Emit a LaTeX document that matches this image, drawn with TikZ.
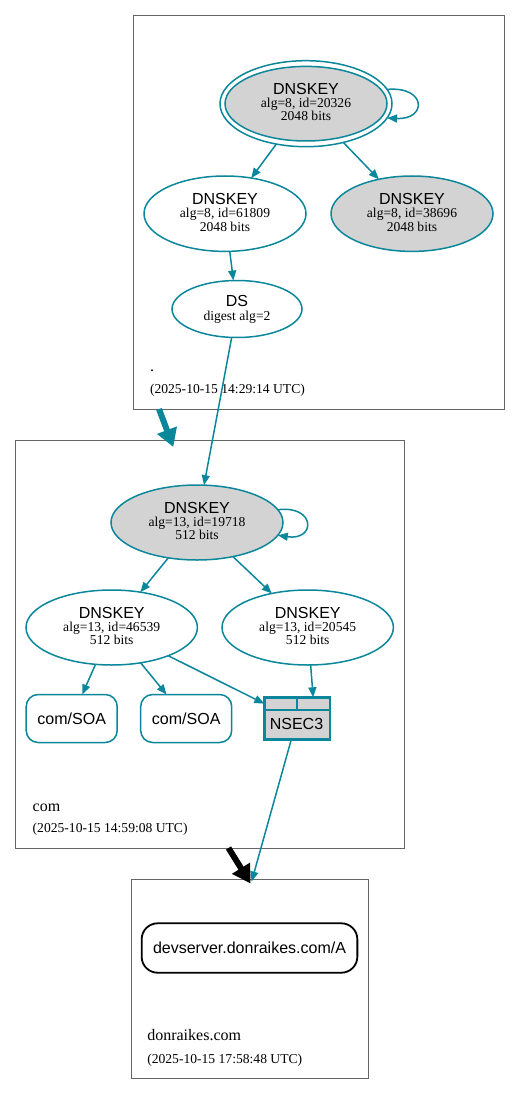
\documentclass[tikz,border=0pt]{standalone}
\usepackage{fontspec}
\setmainfont{Liberation Serif}
\setsansfont{Liberation Sans}
\usetikzlibrary{shapes.geometric,arrows.meta}
\definecolor{sec}{HTML}{0A879A}
\definecolor{kgray}{HTML}{D3D3D3}
\definecolor{cl}{HTML}{666666}
\newcommand\keytxt[3]{%
  \node[tA] (#1-a) at ([yshift=9.5pt]#1.center) {DNSKEY};
  \node[tB] (#1-b) at ([yshift=-4pt]#1.center) {#2};
  \node[tB] (#1-c) at ([yshift=-17.3pt]#1.center) {#3};}
\begin{document}
\begin{tikzpicture}[x=1pt,y=-1pt,
  every node/.style={inner sep=0pt, outer sep=0pt},
  key/.style={ellipse, draw=sec, line width=1.5pt, fill=white},
  ksk/.style={key, fill=kgray},
  tA/.style={font=\sffamily\fontsize{16}{19}\selectfont, anchor=base},
  tB/.style={font=\fontsize{13.6}{15}\selectfont, anchor=base},
  zl/.style={font=\fontsize{16}{19}\selectfont, anchor=base west},
  zt/.style={font=\fontsize{13.6}{15}\selectfont, anchor=base west},
  edge/.style={draw=sec, line width=1.5pt, -{Triangle[length=10pt,width=8pt]}},
  bigedge/.style={line width=6pt, -{Triangle[length=18pt,width=20pt]}},
  zone/.style={rectangle, draw=cl, line width=0.9pt},
  soa/.style={rectangle, rounded corners=12pt, draw=sec, line width=1.5pt, fill=white,
    minimum width=91pt, minimum height=48pt, font=\sffamily\fontsize{16}{19}\selectfont},
  cell/.style={rectangle, draw=sec, line width=1.8pt}
]
\useasboundingbox (0,0) rectangle (520,1094);
% zones
\node[zone, minimum width=370.7pt, minimum height=393.3pt] (zroot) at (318.65,212.35) {};
\node[zone, minimum width=388.6pt, minimum height=408pt] (zcom) at (210,644) {};
\node[zone, minimum width=237.3pt, minimum height=198.7pt] (zdon) at (249.65,978.65) {};

% root zone nodes
\node[key, minimum width=172pt, minimum height=86pt] (k1) at (306,103.7) {};
\draw[sec, line width=1.5pt, fill=kgray] (k1.center) ellipse [x radius=81, y radius=37.3];
\keytxt{k1}{alg=8, id=20326}{2048 bits}
\node[key, minimum width=162pt, minimum height=75.4pt] (k2) at (225,213.7) {};
\keytxt{k2}{alg=8, id=61809}{2048 bits}
\node[ksk, minimum width=162pt, minimum height=75.4pt] (k3) at (412,213.7) {};
\keytxt{k3}{alg=8, id=38696}{2048 bits}
\node[key, minimum width=130pt, minimum height=57pt] (ds) at (237,309) {};
\node[tA] (ds-a) at ([yshift=3pt]ds.center) {DS};
\node[tB] (ds-b) at ([yshift=-11pt]ds.center) {digest alg=2};
\node[zl] (lroot) at (150,371.7) {.};
\node[zt] (troot) at (150,393.8) {(2025-10-15 14:29:14 UTC)};

% com zone nodes
\node[ksk, minimum width=172pt, minimum height=75pt] (c1) at (197,522.5) {};
\keytxt{c1}{alg=13, id=19718}{512 bits}
\node[key, minimum width=171.4pt, minimum height=75pt] (c2) at (111.7,627.5) {};
\keytxt{c2}{alg=13, id=46539}{512 bits}
\node[key, minimum width=171.4pt, minimum height=75pt] (c3) at (307.7,627.5) {};
\keytxt{c3}{alg=13, id=20545}{512 bits}
\node[soa] (soa1) at (71.7,718.5) {com/SOA};
\node[soa] (soa2) at (186.2,718.5) {com/SOA};
\node[rectangle, draw=sec, line width=2.4pt, fill=kgray, minimum width=65.7pt, minimum height=42pt] (n3) at (297.2,718.3) {};
\node[cell, minimum width=33pt, minimum height=12.7pt] (n3a) at (280.8,703.65) {};
\node[cell, minimum width=32.7pt, minimum height=12.7pt] (n3b) at (313.65,703.65) {};
\node[font=\sffamily\fontsize{16}{19}\selectfont, anchor=base] (n3t) at (296.5,729) {NSEC3};
\node[zl] (lcom) at (32.7,811) {com};
\node[zt] (tcom) at (32.7,832.2) {(2025-10-15 14:59:08 UTC)};

% donraikes zone
\node[rectangle, rounded corners=16pt, draw=black, line width=1.8pt, minimum width=215.7pt, minimum height=49.4pt,
  font=\sffamily\fontsize{16}{19}\selectfont] (dev) at (249.5,948) {devserver.donraikes.com/A};
\node[zl] (ldon) at (147.3,1040) {donraikes.com};
\node[zt] (tdon) at (147.3,1063.2) {(2025-10-15 17:58:48 UTC)};

% edges
\draw[edge] (k1) -- (k2);
\draw[edge] (k1) -- (k3);
\draw[edge] (k2) -- (ds);
\draw[edge] (ds) -- (c1);
\draw[edge] (k1.10) .. controls (427,86) and (427,120) .. (k1.-10);
\draw[edge] (c1) -- (c2);
\draw[edge] (c1) -- (c3);
\draw[edge] (c1.9) .. controls (316,505) and (316,541) .. (c1.-9);
\draw[edge] (c2) -- (soa1);
\draw[edge] (c2) -- (soa2);
\draw[edge] (c2) -- (n3a.west);
\draw[edge] (c3) -- (n3b);
\coordinate (d3) at (251.6,881.5);
\draw[edge] (n3) -- (d3);

\coordinate (t1) at (159,409);
\coordinate (t2) at (173.3,447);
\draw[bigedge, draw=sec, fill=sec] (t1) -- (t2);
\coordinate (b1) at (228.5,848);
\coordinate (b2) at (250.5,883.5);
\draw[bigedge, draw=black, fill=black] (b1) -- (b2);
\end{tikzpicture}
\end{document}
